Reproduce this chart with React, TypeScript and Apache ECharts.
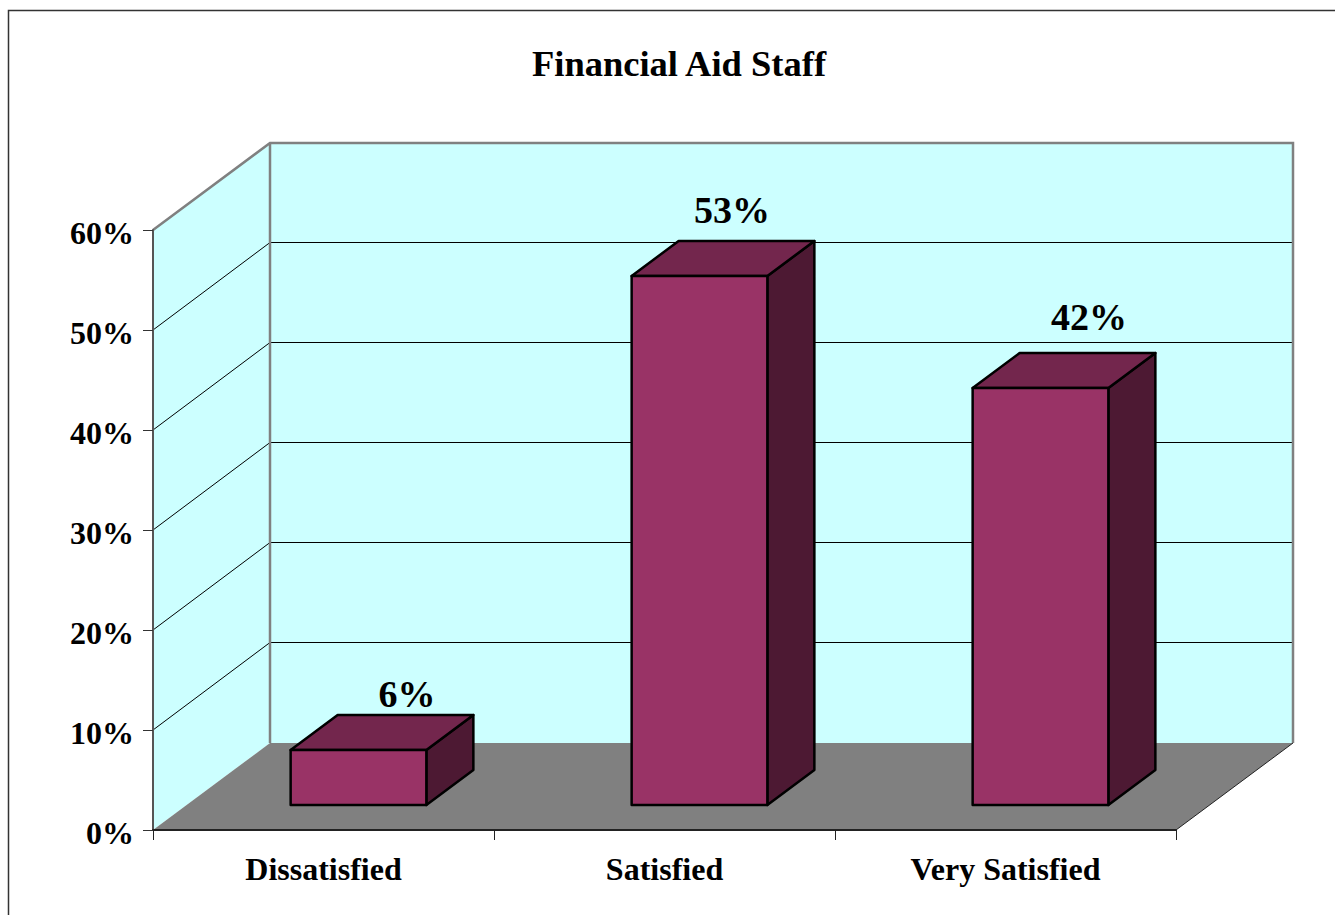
import React, { useEffect, useRef } from "react";
import * as echarts from "echarts";

const chartTitle = "Financial Aid Staff";
const categories = ["Dissatisfied", "Satisfied", "Very Satisfied"];
const barValues = [0.055, 0.529, 0.417];
const barLabels = ["6%", "53%", "42%"];
const gridTicks = [0.1, 0.2, 0.3, 0.4, 0.5];

// Layout of the fake 3D projection, kept apart from the data.
const WALL_DX = 117;
const WALL_DY = -87;
const BAR_INSET_DX = 35;
const BAR_INSET_DY = -25;
const BAR_DX = 47;
const BAR_DY = -35;
const BAR_WIDTH_RATIO = 0.398;
const LABEL_OFFSETS = [
  [47, -56],
  [31, -66],
  [47, -71],
];

const FONT = '"Liberation Serif", "Times New Roman", serif';
const WALL = "#CCFFFF";
const FLOOR = "#808080";
const EDGE = "#808080";
const FRONT = "#993366";
const TOP = "#73264D";
const SIDE = "#4D1933";

function renderWalls(params: any) {
  const c = params.coordSys;
  const L = c.x, R = c.x + c.width, T = c.y, B = c.y + c.height;
  const dx = WALL_DX, dy = WALL_DY;
  return {
    type: "group",
    children: [
      { type: "polygon", shape: { points: [[L, T], [L + dx, T + dy], [L + dx, B + dy], [L, B]] }, style: { fill: WALL } },
      { type: "polygon", shape: { points: [[L + dx, T + dy], [R + dx, T + dy], [R + dx, B + dy], [L + dx, B + dy]] }, style: { fill: WALL } },
    ],
  };
}

function renderGridLine(params: any, api: any) {
  const c = params.coordSys;
  const y = api.coord([0, api.value(1)])[1];
  const back = y + WALL_DY - 0.5;
  return {
    type: "polyline",
    shape: { points: [[c.x, y], [c.x + WALL_DX, back], [c.x + c.width + WALL_DX, back]] },
    style: { fill: "none", stroke: "#000", lineWidth: 1 },
  };
}

function renderFloor(params: any) {
  const c = params.coordSys;
  const L = c.x, R = c.x + c.width, T = c.y, B = c.y + c.height;
  const dx = WALL_DX, dy = WALL_DY;
  return {
    type: "group",
    children: [
      { type: "polyline", shape: { points: [[L, T], [L + dx, T + dy], [R + dx, T + dy], [R + dx, B + dy]] }, style: { fill: "none", stroke: EDGE, lineWidth: 2.5 } },
      { type: "line", shape: { x1: L + dx, y1: T + dy, x2: L + dx, y2: B + dy }, style: { stroke: EDGE, lineWidth: 2.5 } },
      { type: "polygon", shape: { points: [[L, B], [L + dx, B + dy], [R + dx, B + dy], [R, B]] }, style: { fill: FLOOR } },
      { type: "line", shape: { x1: R, y1: B, x2: R + dx, y2: B + dy }, style: { stroke: "#222", lineWidth: 1 } },
    ],
  };
}

function renderBar(params: any, api: any) {
  const i = params.dataIndex;
  const band = api.size([1, 0])[0];
  const w = band * BAR_WIDTH_RATIO;
  const top = api.coord([api.value(0), api.value(1)]);
  const base = api.coord([api.value(0), 0]);
  const x0 = top[0] + BAR_INSET_DX - w / 2;
  const x1 = x0 + w;
  const yT = top[1] + BAR_INSET_DY;
  const yB = base[1] + BAR_INSET_DY;
  const line = { stroke: "#000", lineWidth: 2.5, lineJoin: "round" };
  return {
    type: "group",
    children: [
      { type: "polygon", shape: { points: [[x1, yT], [x1 + BAR_DX, yT + BAR_DY], [x1 + BAR_DX, yB + BAR_DY], [x1, yB]] }, style: { fill: SIDE, ...line } },
      { type: "polygon", shape: { points: [[x0, yT], [x0 + BAR_DX, yT + BAR_DY], [x1 + BAR_DX, yT + BAR_DY], [x1, yT]] }, style: { fill: TOP, ...line } },
      { type: "polygon", shape: { points: [[x0, yT], [x1, yT], [x1, yB], [x0, yB]] }, style: { fill: FRONT, ...line } },
      {
        type: "text",
        style: {
          x: top[0] + BAR_INSET_DX + LABEL_OFFSETS[i][0] + 1.5,
          y: yT + LABEL_OFFSETS[i][1],
          text: barLabels[i],
          fill: "#000",
          align: "center",
          verticalAlign: "middle",
          font: `bold 38px ${FONT}`,
        },
      },
    ],
  };
}

export default function App() {
  const ref = useRef<HTMLDivElement>(null);

  useEffect(() => {
    const chart = echarts.init(ref.current!, undefined, { renderer: "svg" });
    chart.setOption({
      animation: false,
      backgroundColor: "#fff",
      title: {
        text: chartTitle,
        left: 674,
        top: 40,
        textAlign: "center",
        textStyle: { fontFamily: FONT, fontWeight: "bold", fontSize: 36.5, color: "#000" },
      },
      graphic: [
        {
          type: "polyline",
          shape: { points: [[8.5, 915], [8.5, 10.5], [1335, 10.5]] },
          style: { fill: "none", stroke: "#333", lineWidth: 1.5 },
        },
      ],
      grid: { left: 153, top: 230, right: 159, bottom: 85, containLabel: false },
      xAxis: {
        type: "category",
        data: categories,
        z: 6,
        axisLine: { show: true, lineStyle: { color: "#222", width: 2 } },
        axisTick: { show: true, length: 10, alignWithLabel: false, lineStyle: { color: "#222", width: 1 } },
        axisLabel: { interval: 0, margin: 23, fontFamily: FONT, fontWeight: "bold", fontSize: 32, color: "#000" },
        splitLine: { show: false },
      },
      yAxis: {
        type: "value",
        min: 0,
        max: 0.6,
        interval: 0.1,
        z: 6,
        axisLine: { show: true, lineStyle: { color: "#555", width: 2 } },
        axisTick: { show: true, length: 10, lineStyle: { color: "#333", width: 1 } },
        axisLabel: {
          margin: 19,
          verticalAlign: "top",
          lineHeight: 6,
          formatter: (v: number) => `${Math.round(v * 100)}%`,
          fontFamily: FONT,
          fontWeight: "bold",
          fontSize: 32,
          color: "#000",
        },
        splitLine: { show: false },
      },
      series: [
        { type: "custom", name: "walls", z: 1, data: [[0, 0]], encode: { x: 0, y: 1 }, renderItem: renderWalls },
        { type: "custom", name: "grid", z: 2, data: gridTicks.map((t) => [0, t]), encode: { x: 0, y: 1 }, renderItem: renderGridLine },
        { type: "custom", name: "floor", z: 3, data: [[0, 0]], encode: { x: 0, y: 1 }, renderItem: renderFloor },
        { type: "custom", name: "bars", z: 4, data: barValues.map((v, i) => [i, v]), encode: { x: 0, y: 1 }, renderItem: renderBar },
      ],
    });
    return () => chart.dispose();
  }, []);

  return <div ref={ref} style={{ position: "fixed", left: 0, top: 0, width: 1335, height: 915 }} />;
}
